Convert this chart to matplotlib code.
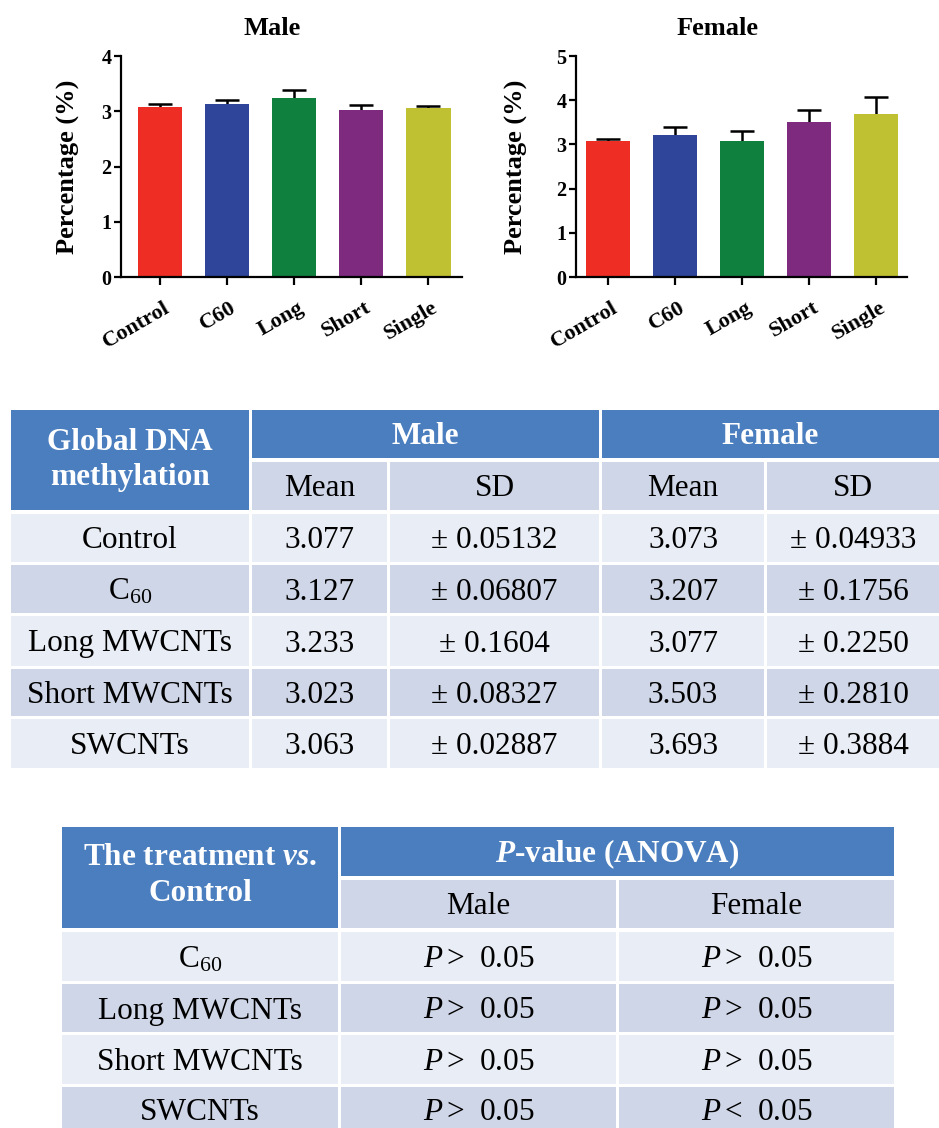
import matplotlib.pyplot as plt
from matplotlib.patches import Rectangle
import matplotlib.transforms as mtransforms

plt.rcParams['font.family'] = ['Liberation Serif', 'DejaVu Serif']
plt.rcParams['mathtext.fontset'] = 'custom'
plt.rcParams['mathtext.rm'] = 'Liberation Serif'
plt.rcParams['mathtext.it'] = 'Liberation Serif:italic'
plt.rcParams['mathtext.bf'] = 'Liberation Serif:bold'
plt.rcParams['mathtext.bfit'] = 'Liberation Serif:italic:bold'

# data
groups = ['Control', 'C60', 'Long', 'Short', 'Single']
bar_colors = ['#EE2D24', '#2E4599', '#10803F', '#7E2A7F', '#C0C033']

table_rows = ['Control', r'C$_{60}$', 'Long MWCNTs', 'Short MWCNTs', 'SWCNTs']
male_mean_txt = ['3.077', '3.127', '3.233', '3.023', '3.063']
male_sd_txt = ['0.05132', '0.06807', '0.1604', '0.08327', '0.02887']
female_mean_txt = ['3.073', '3.207', '3.077', '3.503', '3.693']
female_sd_txt = ['0.04933', '0.1756', '0.2250', '0.2810', '0.3884']

male_mean = [float(v) for v in male_mean_txt]
male_sd = [float(v) for v in male_sd_txt]
female_mean = [float(v) for v in female_mean_txt]
female_sd = [float(v) for v in female_sd_txt]

p_rows = table_rows[1:]
p_male = ['>', '>', '>', '>']
p_female = ['>', '>', '>', '<']

W, H = 939, 1128
fig = plt.figure(figsize=(W / 100, H / 100), dpi=100)

# ---------- tables (drawn in pixel coords on a full-figure axes)
tab = fig.add_axes([0, 0, 1, 1])
tab.set_xlim(0, W)
tab.set_ylim(H, 0)
tab.axis('off')

BLUE = '#4A7EBF'
DARK = '#CFD6E7'
LIGHT = '#E9EDF5'
FS = 22.5


def cell(x0, x1, y0, y1, color, text='', bold=False, white=False, dy=3):
    tab.add_patch(Rectangle((x0, y0), x1 - x0, y1 - y0, facecolor=color,
                            edgecolor='none'))
    if text:
        tab.text((x0 + x1) / 2, (y0 + y1) / 2 + dy, text, ha='center',
                 va='center', fontsize=FS,
                 fontweight='bold' if bold else 'normal',
                 color='white' if white else 'black', linespacing=1.3)


# table 1
cols1 = [(11, 249), (252, 387), (390, 599), (602, 764), (767, 939)]
cell(11, 249, 410, 510, BLUE, 'Global DNA\nmethylation', bold=True,
     white=True, dy=0)
cell(252, 599, 410, 458, BLUE, 'Male', bold=True, white=True)
cell(602, 939, 410, 458, BLUE, 'Female', bold=True, white=True)
for (x0, x1), t in zip(cols1[1:], ['Mean', 'SD', 'Mean', 'SD']):
    cell(x0, x1, 462, 510, DARK, t)
rows1_y = [(514, 562), (565, 613), (616, 666), (669, 716), (719, 768)]
for i, (y0, y1) in enumerate(rows1_y):
    c = LIGHT if i % 2 == 0 else DARK
    vals = [table_rows[i], male_mean_txt[i], '± ' + male_sd_txt[i],
            female_mean_txt[i], '± ' + female_sd_txt[i]]
    for (x0, x1), t in zip(cols1, vals):
        cell(x0, x1, y0, y1, c, t)

# table 2
cols2 = [(62, 338), (341, 616), (619, 894)]
cell(62, 338, 827, 928, BLUE, 'The treatment $\\mathbfit{vs}$.\nControl',
     bold=True, white=True, dy=-2)
cell(341, 894, 827, 876, BLUE, r'$\mathbfit{P}$-value (ANOVA)', bold=True,
     white=True)
cell(341, 616, 880, 928, DARK, 'Male')
cell(619, 894, 880, 928, DARK, 'Female')
rows2_y = [(932, 981), (984, 1032), (1035, 1084), (1087, 1140)]
for i, (y0, y1) in enumerate(rows2_y):
    c = LIGHT if i % 2 == 0 else DARK
    vals = [p_rows[i], r'$P\,$' + p_male[i] + '  0.05',
            r'$P\,$' + p_female[i] + '  0.05']
    for (x0, x1), t in zip(cols2, vals):
        cell(x0, x1, y0, y1, c, t, dy=-1 if i == 3 else 3)


# ---------- bar charts
def bar_panel(rect, means, sds, title, ymax, title_x, ylab_x):
    ax = fig.add_axes(rect)
    x = list(range(len(groups)))
    ax.errorbar(x, means, yerr=sds, fmt='none', ecolor='black',
                elinewidth=1.8, capsize=8.5, capthick=1.8, zorder=1)
    ax.bar(x, means, width=0.66, color=bar_colors, zorder=2)
    ax.set_ylim(0, ymax)
    ax.set_yticks(range(ymax + 1))
    for s in ['top', 'right']:
        ax.spines[s].set_visible(False)
    for s in ['left', 'bottom']:
        ax.spines[s].set_linewidth(1.6)
    ax.tick_params(axis='y', length=5, width=1.6, labelsize=14.5, pad=2)
    ax.tick_params(axis='x', length=6, width=1.6, labelsize=16, pad=9)
    ax.set_xticks(x)
    ax.set_xticklabels(groups, rotation=30, ha='right', va='top',
                       rotation_mode='anchor', fontweight='bold')
    off = mtransforms.ScaledTranslation(3 / 100, 0, fig.dpi_scale_trans)
    for lab in ax.get_xticklabels():
        lab.set_transform(lab.get_transform() + off)
    for lab in ax.get_yticklabels():
        lab.set_fontweight('bold')
    ax.set_ylabel('Percentage (%)', fontsize=19, fontweight='bold')
    ax.yaxis.set_label_coords(ylab_x, 0.5)
    ax.set_title(title, fontsize=19, fontweight='bold', x=title_x, pad=15)
    return ax


male_ax = bar_panel([121 / W, 1 - 277 / H, 341 / W, 221 / H], male_mean,
                    male_sd, 'Male', 4, 0.443, -0.12)
male_ax.set_xlim(-0.58, 4.5)
female_ax = bar_panel([576 / W, 1 - 277 / H, 331 / W, 221 / H], female_mean,
                      female_sd, 'Female', 5, 0.429, -0.145)
female_ax.set_xlim(-0.48, 4.46)

fig.savefig('out.png', dpi=100)
